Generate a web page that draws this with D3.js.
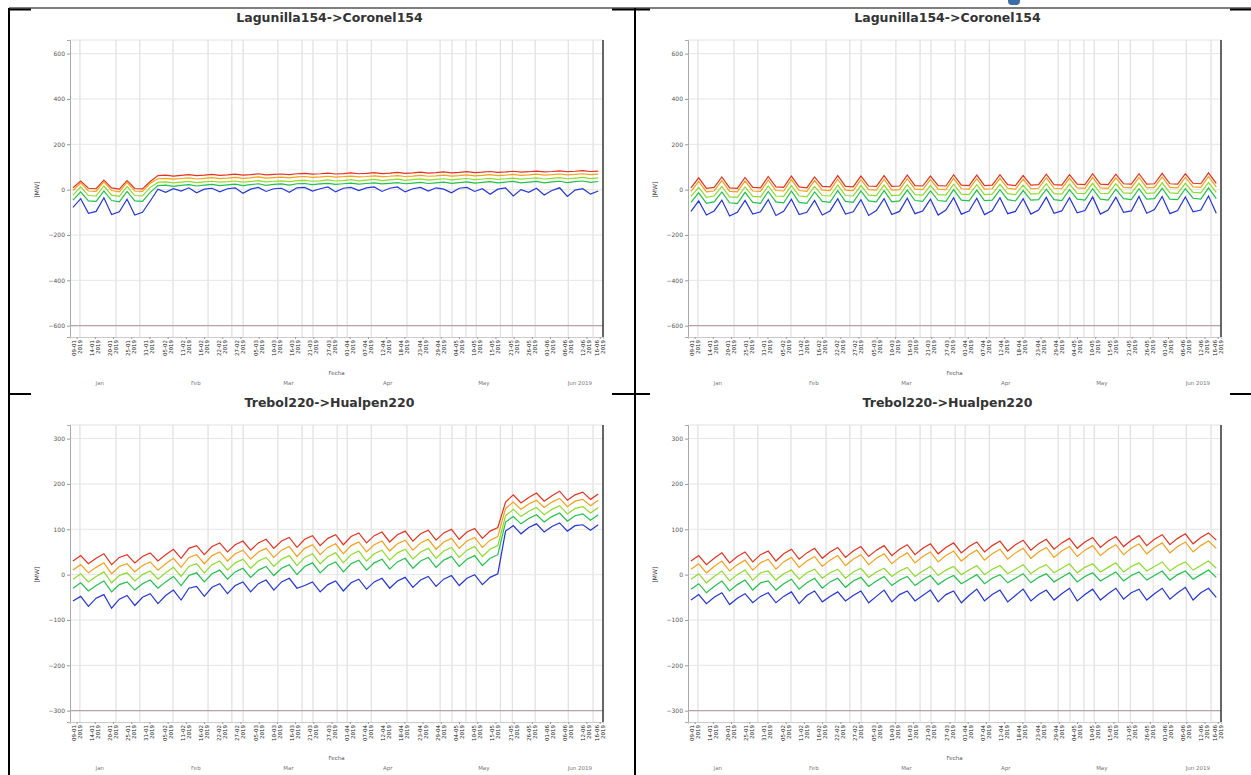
<!DOCTYPE html>
<html>
<head>
<meta charset="utf-8">
<script src="https://cdn.jsdelivr.net/npm/d3@7"></script>
<style>
  body { margin: 0; background: #fff; }
  svg text { font-family: "DejaVu Sans", sans-serif; }
</style>
</head>
<body>
<svg id="chart" width="1251" height="775"></svg>
<script>
// titles and axis ticks
var titleTop = "Lagunilla154->Coronel154";
var titleBottom = "Trebol220->Hualpen220";
var yTicksTop = [600, 400, 200, 0, -200, -400, -600];
var yTicksBottom = [300, 200, 100, 0, -100, -200, -300];
var yDomainTop = [-650, 660];
var yDomainBottom = [-325, 330];
var limitTop = -600, limitBottom = -300;

// x axis: days from 2019-01-07
var xDays = 161;
var gridDays = [3, 13.9, 21.1, 31.1, 41.7, 48.9, 52.3, 62.8, 70.1, 73.4, 80.7, 83.7, 91,
                101.8, 111.8, 115.4, 119.6, 122.7, 130, 133.6, 140.5, 150.5, 158];
var tickDays = [2, 7.5, 13, 18.5, 24, 29.5, 35, 40.5, 46, 51.5, 57, 62.5, 68, 73.5, 79,
                84.5, 90, 95.5, 101, 106.5, 112, 117.5, 123, 128.5, 134, 139.5, 145, 150.5, 156, 160];
var monthLabels = ["Jan", "Feb", "Mar", "Apr", "May", "Jun 2019"];
var monthDays = [9, 38, 66, 96, 125, 154];

// series samples: one value every 7/3 days, first at day 0.9
var sampleStep = 7 / 3, sampleStart = 0.9;
var seriesNames = ["P95", "P75", "P50", "P25", "P5"];
var seriesColors = ["#e8321e", "#f5a11a", "#8edc2a", "#1fc24a", "#2335dc"];

var tlRed = [8, 38, 6, 4, 42, 8, 2, 40, 5, 3,
  36, 62, 64, 60, 63, 66, 62, 64, 67, 63,
  65, 68, 64, 66, 70, 65, 67, 69, 66, 70,
  72, 68, 70, 73, 69, 71, 74, 70, 72, 75,
  71, 73, 76, 72, 74, 77, 73, 75, 78, 74,
  76, 79, 75, 77, 80, 76, 78, 81, 77, 79,
  82, 78, 80, 83, 79, 81, 84, 80, 82];
var tlOrange = [-4, 30, -6, -8, 34, -4, -10, 32, -6, -8,
  28, 48, 50, 46, 49, 52, 47, 50, 53, 49,
  51, 54, 50, 52, 56, 51, 53, 55, 52, 56,
  58, 54, 56, 59, 55, 57, 60, 56, 58, 61,
  57, 59, 62, 58, 60, 63, 59, 61, 64, 60,
  62, 65, 61, 63, 66, 62, 64, 67, 63, 65,
  68, 64, 66, 69, 65, 67, 70, 66, 68];
var tlLime = [-24, 12, -26, -28, 16, -24, -30, 14, -26, -28,
  10, 32, 34, 30, 33, 36, 31, 34, 37, 33,
  35, 38, 33, 36, 40, 34, 37, 39, 35, 40,
  41, 37, 39, 43, 38, 40, 44, 39, 42, 45,
  40, 43, 46, 41, 44, 47, 42, 45, 48, 43,
  46, 49, 44, 47, 50, 45, 48, 51, 46, 49,
  52, 47, 50, 53, 48, 51, 54, 49, 52];
var tlGreen = [-46, -10, -50, -52, -6, -48, -54, -8, -50, -52,
  -12, 18, 20, 14, 19, 22, 16, 20, 23, 18,
  21, 24, 18, 22, 26, 19, 23, 25, 20, 26,
  27, 22, 25, 28, 23, 26, 29, 24, 27, 30,
  25, 28, 31, 26, 29, 32, 27, 30, 33, 28,
  31, 34, 29, 32, 35, 30, 33, 36, 30, 33,
  36, 30, 34, 37, 31, 35, 38, 32, 36];
var tlBlue = [-78, -40, -104, -96, -36, -110, -98, -42, -112, -100,
  -50, 2, -12, 4, -6, 8, -14, 2, 6, -10,
  4, 8, -16, 2, 10, -8, 4, 6, -12, 8,
  10, -6, 4, 12, -10, 6, 10, -4, 8, 12,
  -8, 6, 12, -10, 4, 10, -6, 8, 2, -14,
  6, 10, -8, 4, -20, 2, 8, -28, 0, -12,
  6, -24, -4, 8, -30, -2, 4, -20, -6];

var trRed = [8, 52, 6, 10, 56, 8, 6, 54, 10, 8,
  58, 12, 10, 60, 12, 8, 56, 14, 12, 62,
  14, 12, 60, 16, 14, 62, 14, 16, 64, 18,
  16, 60, 18, 16, 66, 20, 18, 64, 18, 20,
  66, 22, 18, 62, 20, 22, 68, 22, 20, 66,
  24, 22, 70, 24, 22, 68, 26, 24, 70, 24,
  26, 72, 26, 24, 70, 28, 26, 74, 28];
var trOrange = [-8, 36, -10, -6, 40, -8, -10, 38, -6, -8,
  42, -4, -6, 44, -4, -8, 40, -2, -4, 46,
  -2, -4, 44, 0, -2, 46, -2, 0, 48, 2,
  0, 44, 2, 0, 50, 4, 2, 48, 2, 4,
  50, 6, 2, 46, 4, 6, 52, 6, 4, 50,
  8, 6, 54, 8, 6, 52, 10, 8, 54, 8,
  10, 56, 10, 8, 54, 12, 10, 58, 12];
var trLime = [-30, 10, -34, -28, 14, -32, -34, 12, -30, -32,
  16, -28, -30, 18, -28, -32, 14, -26, -28, 20,
  -26, -28, 18, -24, -26, 20, -26, -24, 22, -22,
  -24, 18, -22, -24, 24, -20, -22, 22, -22, -20,
  24, -18, -22, 20, -20, -18, 26, -18, -20, 24,
  -16, -18, 28, -16, -18, 26, -14, -16, 28, -16,
  -14, 30, -14, -16, 28, -12, -14, 32, -12];
var trGreen = [-56, -14, -60, -54, -10, -58, -62, -12, -56, -60,
  -8, -54, -58, -6, -56, -60, -10, -52, -56, -4,
  -52, -56, -6, -50, -54, -4, -54, -50, -2, -48,
  -52, -6, -48, -52, 0, -46, -50, -2, -48, -46,
  0, -44, -50, -4, -46, -44, 2, -44, -48, 0,
  -42, -46, 4, -42, -46, 2, -40, -44, 4, -42,
  -40, 6, -42, -44, 4, -38, -42, 8, -40];
var trBlue = [-96, -50, -112, -94, -46, -116, -100, -48, -108, -98,
  -44, -114, -96, -42, -110, -100, -48, -112, -94, -40,
  -108, -98, -44, -114, -92, -40, -110, -96, -38, -106,
  -94, -42, -112, -90, -36, -108, -94, -38, -110, -92,
  -36, -106, -96, -40, -108, -90, -34, -104, -94, -36,
  -102, -92, -32, -108, -90, -34, -100, -94, -30, -104,
  -88, -30, -106, -92, -32, -98, -90, -28, -104];

var blRed = [30, 42, 24, 36, 46, 22, 38, 44, 26, 40,
  48, 30, 44, 56, 36, 58, 64, 44, 62, 70,
  50, 66, 74, 54, 70, 78, 58, 74, 82, 60,
  78, 86, 64, 80, 88, 66, 84, 92, 70, 86,
  94, 72, 88, 96, 74, 90, 98, 76, 92, 100,
  78, 94, 102, 80, 96, 104, 160, 176, 158, 170,
  180, 162, 174, 184, 164, 176, 182, 166, 178];
var blOrange = [10, 22, 4, 16, 26, 2, 18, 24, 6, 20,
  28, 10, 24, 36, 16, 38, 44, 24, 42, 50,
  30, 46, 54, 34, 50, 58, 38, 54, 62, 40,
  58, 66, 44, 60, 68, 46, 64, 72, 50, 66,
  74, 52, 68, 76, 54, 70, 78, 56, 72, 80,
  58, 74, 82, 60, 76, 84, 146, 160, 144, 156,
  164, 148, 160, 168, 150, 162, 166, 152, 164];
var blLime = [-10, 2, -16, -4, 6, -18, -2, 4, -14, 0,
  8, -10, 4, 16, -4, 18, 24, 4, 22, 30,
  10, 26, 34, 14, 30, 38, 18, 34, 42, 20,
  38, 46, 24, 40, 48, 26, 44, 52, 30, 46,
  54, 32, 48, 56, 34, 50, 58, 36, 52, 60,
  38, 54, 62, 40, 56, 64, 130, 144, 128, 140,
  148, 132, 144, 152, 134, 146, 150, 136, 148];
var blGreen = [-30, -18, -36, -24, -14, -38, -22, -16, -34, -20,
  -12, -30, -16, -4, -24, -2, 4, -16, 2, 10,
  -10, 6, 14, -6, 10, 18, -2, 14, 22, 0,
  18, 26, 4, 20, 28, 6, 24, 32, 10, 26,
  34, 12, 28, 36, 14, 30, 38, 16, 32, 40,
  18, 34, 42, 20, 36, 44, 116, 128, 112, 124,
  132, 116, 128, 136, 118, 130, 134, 120, 132];
var blBlue = [-58, -48, -70, -52, -44, -74, -54, -46, -68, -50,
  -42, -64, -46, -34, -56, -30, -26, -48, -28, -20,
  -42, -24, -16, -38, -20, -12, -34, -16, -8, -30,
  -24, -16, -38, -22, -14, -36, -18, -10, -32, -16,
  -8, -30, -14, -6, -28, -12, -4, -26, -10, -2,
  -24, -8, 0, -22, -6, 2, 96, 108, 90, 104,
  112, 94, 106, 114, 96, 108, 110, 98, 110];

var brRed = [30, 42, 22, 36, 48, 26, 40, 50, 28, 44,
  52, 30, 46, 56, 34, 48, 58, 36, 50, 60,
  38, 52, 62, 40, 54, 64, 42, 56, 66, 44,
  58, 68, 46, 60, 70, 48, 62, 72, 50, 64,
  74, 52, 66, 76, 54, 68, 78, 56, 70, 80,
  58, 72, 82, 60, 74, 84, 62, 76, 86, 64,
  78, 88, 66, 80, 90, 68, 82, 92, 76];
var brOrange = [12, 24, 4, 18, 30, 8, 22, 32, 10, 26,
  34, 12, 28, 38, 16, 30, 40, 18, 32, 42,
  20, 34, 44, 22, 36, 46, 24, 38, 48, 26,
  40, 50, 28, 42, 52, 30, 44, 54, 32, 46,
  56, 34, 48, 58, 36, 50, 60, 38, 52, 62,
  40, 54, 64, 42, 56, 66, 44, 58, 68, 46,
  60, 70, 48, 62, 72, 50, 64, 74, 58];
var brLime = [-10, 2, -18, -4, 8, -14, 0, 10, -12, 4,
  8, -12, 2, 10, -10, 4, 12, -8, 4, 12,
  -8, 6, 14, -6, 6, 14, -4, 8, 16, -4,
  8, 18, -2, 10, 18, 0, 10, 20, 0, 12,
  20, 2, 12, 22, 2, 14, 22, 4, 14, 24,
  4, 16, 24, 6, 16, 26, 6, 18, 26, 8,
  18, 28, 8, 20, 28, 10, 20, 30, 14];
var brGreen = [-32, -20, -40, -26, -14, -36, -22, -12, -34, -18,
  -14, -34, -20, -10, -32, -18, -8, -30, -16, -8,
  -28, -14, -6, -26, -14, -4, -24, -12, -4, -24,
  -12, -2, -22, -10, -2, -20, -10, 0, -20, -8,
  0, -18, -8, 2, -18, -6, 2, -16, -6, 4,
  -16, -4, 4, -14, -4, 6, -14, -2, 6, -12,
  -2, 8, -12, 0, 8, -10, 0, 10, -6];
var brBlue = [-56, -44, -64, -50, -40, -66, -52, -42, -62, -48,
  -40, -62, -48, -38, -64, -46, -36, -60, -48, -38,
  -58, -46, -36, -62, -48, -34, -60, -44, -36, -58,
  -46, -34, -60, -44, -36, -62, -46, -32, -58, -44,
  -34, -60, -46, -32, -58, -44, -34, -56, -42, -30,
  -58, -44, -32, -56, -42, -30, -54, -40, -32, -56,
  -42, -30, -54, -40, -28, -56, -40, -30, -50];

var startDate = Date.UTC(2019, 0, 7);
var fmtDay = d3.utcFormat("%d-%m");
var fmtYear = d3.utcFormat("%Y");

var svg = d3.select("#chart");

// panel layout (top-left corner of each chart picture)
var panels = [
  {dx: 0,   dy: 0,   title: titleTop,    ticks: yTicksTop,    domain: yDomainTop,    limit: limitTop,
   series: [tlRed, tlOrange, tlLime, tlGreen, tlBlue]},
  {dx: 618, dy: 0,   title: titleTop,    ticks: yTicksTop,    domain: yDomainTop,    limit: limitTop,
   series: [trRed, trOrange, trLime, trGreen, trBlue]},
  {dx: 0,   dy: 385, title: titleBottom, ticks: yTicksBottom, domain: yDomainBottom, limit: limitBottom,
   series: [blRed, blOrange, blLime, blGreen, blBlue]},
  {dx: 618, dy: 385, title: titleBottom, ticks: yTicksBottom, domain: yDomainBottom, limit: limitBottom,
   series: [brRed, brOrange, brLime, brGreen, brBlue]}
];

var plot = {left: 70, right: 603, top: 40, bottom: 337};

panels.forEach(function(p) {
  var g = svg.append("g").attr("transform", "translate(" + p.dx + "," + p.dy + ")");

  var x = d3.scaleLinear().domain([0, xDays]).range([plot.left, plot.right]);
  var y = d3.scaleLinear().domain(p.domain).range([plot.bottom, plot.top]);

  g.append("text")
    .attr("x", (plot.left + plot.right) / 2 - 7)
    .attr("y", 22)
    .attr("text-anchor", "middle")
    .attr("font-size", 12.5)
    .attr("font-weight", "bold")
    .attr("fill", "#333")
    .text(p.title);

  // grid
  g.append("g").selectAll("line.v").data(gridDays).enter().append("line")
    .attr("x1", function(d) { return x(d); }).attr("x2", function(d) { return x(d); })
    .attr("y1", plot.top).attr("y2", plot.bottom)
    .attr("stroke", "#d9d9d9").attr("stroke-width", 1);

  g.append("g").selectAll("line.h").data(p.ticks).enter().append("line")
    .attr("x1", plot.left).attr("x2", plot.right)
    .attr("y1", function(d) { return y(d); }).attr("y2", function(d) { return y(d); })
    .attr("stroke", "#e6e6e6").attr("stroke-width", 1);

  g.append("line")
    .attr("x1", plot.left).attr("x2", plot.right)
    .attr("y1", plot.top).attr("y2", plot.top)
    .attr("stroke", "#e2e2e2");

  // limit line
  g.append("line")
    .attr("x1", plot.left).attr("x2", plot.right)
    .attr("y1", y(p.limit)).attr("y2", y(p.limit))
    .attr("stroke", "#b9a3a6").attr("stroke-width", 1.2);

  // y axis
  var yAxis = g.append("g")
    .attr("transform", "translate(" + plot.left + ",0)")
    .call(d3.axisLeft(y).tickValues(p.ticks).tickSize(3).tickPadding(2));
  yAxis.select(".domain").attr("stroke", "#aaa");
  yAxis.selectAll(".tick line").attr("stroke", "#999");
  yAxis.selectAll("text").attr("font-size", 6).attr("fill", "#555")
    .attr("font-family", "DejaVu Sans, sans-serif");

  g.append("text")
    .attr("transform", "translate(39," + y(0) + ") rotate(-90)")
    .attr("text-anchor", "middle")
    .attr("font-size", 6)
    .attr("fill", "#333")
    .text("[MW]");

  // x axis
  var xAxis = g.append("g")
    .attr("transform", "translate(0," + plot.bottom + ")")
    .call(d3.axisBottom(x).tickValues(tickDays).tickSize(2).tickFormat(""));
  xAxis.select(".domain").attr("stroke", "#ccc");
  xAxis.selectAll(".tick line").attr("stroke", "#999");

  var tl = g.append("g").selectAll("g").data(tickDays).enter().append("g")
    .attr("transform", function(d) { return "translate(" + x(d) + "," + (plot.bottom + 3) + ") rotate(-90)"; });
  tl.append("text")
    .attr("x", 0).attr("y", -1)
    .attr("text-anchor", "end")
    .attr("font-size", 5.5).attr("fill", "#222")
    .text(function(d) { return fmtDay(new Date(startDate + d * 864e5)); });
  tl.append("text")
    .attr("x", 0).attr("y", 5)
    .attr("text-anchor", "end")
    .attr("font-size", 5.5).attr("fill", "#222")
    .text(function(d) { return fmtYear(new Date(startDate + d * 864e5)); });

  g.append("text")
    .attr("x", (plot.left + plot.right) / 2).attr("y", 375)
    .attr("text-anchor", "middle")
    .attr("font-size", 5.5).attr("fill", "#555")
    .text("Fecha");

  g.append("g").selectAll("text").data(monthDays).enter().append("text")
    .attr("x", function(d) { return x(d); }).attr("y", 385)
    .attr("text-anchor", "middle")
    .attr("font-size", 5.5).attr("fill", "#777")
    .text(function(d, i) { return monthLabels[i]; });

  // series
  var line = d3.line()
    .x(function(d, i) { return x(sampleStart + i * sampleStep); })
    .y(function(d) { return y(d); });

  p.series.forEach(function(vals, k) {
    g.append("path")
      .datum(vals)
      .attr("fill", "none")
      .attr("stroke", seriesColors[k])
      .attr("stroke-width", 1.2)
      .attr("d", line);
  });

  // right border of plot
  g.append("line")
    .attr("x1", plot.right).attr("x2", plot.right)
    .attr("y1", plot.top).attr("y2", plot.bottom)
    .attr("stroke", "#333").attr("stroke-width", 1.5);
});

// page frame
var frame = svg.append("g").attr("stroke", "#000");
frame.append("line").attr("x1", 9).attr("x2", 1251).attr("y1", 8).attr("y2", 8).attr("stroke-width", 1.2);
[[9, 31], [612, 650], [1230, 1251]].forEach(function(s) {
  frame.append("line").attr("x1", s[0]).attr("x2", s[1]).attr("y1", 9.5).attr("y2", 9.5).attr("stroke-width", 2);
  frame.append("line").attr("x1", s[0]).attr("x2", s[1]).attr("y1", 394).attr("y2", 394).attr("stroke-width", 2);
});
frame.append("line").attr("x1", 9).attr("x2", 9).attr("y1", 8).attr("y2", 775).attr("stroke-width", 2);
frame.append("line").attr("x1", 635).attr("x2", 635).attr("y1", 8).attr("y2", 775).attr("stroke-width", 2);

svg.append("rect").attr("x", 1008).attr("y", -4).attr("width", 12).attr("height", 9)
  .attr("rx", 4).attr("fill", "#3b6ea8");
</script>
</body>
</html>
